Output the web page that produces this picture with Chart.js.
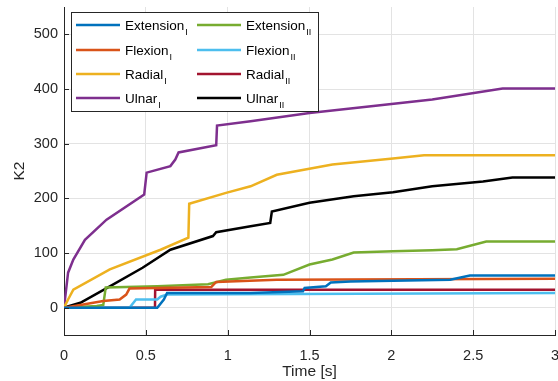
<!DOCTYPE html>
<html>
<head>
<meta charset="utf-8">
<script src="https://cdn.jsdelivr.net/npm/chart.js@4"></script>
<style>
  html, body { margin: 0; padding: 0; background: #fff; }
  #wrap { width: 558px; height: 381px; }
</style>
</head>
<body>
<div id="wrap"><canvas id="myChart" width="558" height="381"></canvas></div>
<script>
// --- data ---
const names = ['Extension', 'Flexion', 'Radial', 'Ulnar', 'Extension', 'Flexion', 'Radial', 'Ulnar'];
const subs = ['I', 'I', 'I', 'I', 'II', 'II', 'II', 'II'];
const colors = ['#0072BD', '#D95319', '#EDB120', '#7E2F8E', '#77AC30', '#4DBEEE', '#A2142F', '#000000'];

const extI_t = [0, 0.57, 0.61, 0.63, 1.14, 1.46, 1.47, 1.6, 1.63, 1.75, 2.36, 2.48, 3];
const extI_k = [0, 0, 15, 27, 27, 30, 36, 39, 46, 48, 51, 59, 59];

const flexI_t = [0, 0.1, 0.24, 0.34, 0.38, 0.4, 0.9, 0.93, 1.3, 3];
const flexI_k = [0, 5, 12, 15, 24, 35, 38, 47, 51, 53];

const radI_t = [0, 0.025, 0.057, 0.28, 0.59, 0.76, 0.765, 0.99, 1.14, 1.3, 1.64, 2.01, 2.2, 3];
const radI_k = [0, 15, 33, 70, 106, 128, 190, 210, 222, 243, 262, 273, 279, 279];

const ulnI_t = [0, 0.025, 0.057, 0.128, 0.26, 0.49, 0.505, 0.65, 0.68, 0.7, 0.93, 0.935, 1.14, 1.5, 1.89, 2.25, 2.68, 3];
const ulnI_k = [0, 64, 88, 124, 161, 207, 247, 259, 271, 284, 297, 333, 341, 356, 369, 381, 401, 401];

const extII_t = [0, 0.2, 0.24, 0.255, 0.57, 0.88, 0.99, 1.14, 1.34, 1.5, 1.64, 1.77, 2.01, 2.25, 2.4, 2.58, 3];
const extII_k = [0, 3, 5, 37, 39, 43, 51, 55, 60, 79, 88, 101, 103, 105, 107, 121, 121];

const flexII_t = [0, 0.4, 0.44, 0.57, 0.59, 0.63, 3];
const flexII_k = [0, 0, 15, 15, 20, 24, 27];

const radII_t = [0, 0.556, 0.557, 3];
const radII_k = [0, 0, 33, 33];

const ulnII_t = [0, 0.1, 0.28, 0.48, 0.65, 0.91, 0.93, 1.14, 1.26, 1.27, 1.5, 1.77, 2.01, 2.25, 2.56, 2.74, 3];
const ulnII_k = [0, 9, 39, 73, 106, 131, 138, 149, 155, 176, 192, 204, 211, 222, 231, 238, 238];

const times = [extI_t, flexI_t, radI_t, ulnI_t, extII_t, flexII_t, radII_t, ulnII_t];
const values = [extI_k, flexI_k, radI_k, ulnI_k, extII_k, flexII_k, radII_k, ulnII_k];

const xTicks = [0, 0.5, 1, 1.5, 2, 2.5, 3];
const yTicks = [0, 100, 200, 300, 400, 500];

function points(t, k) {
    const out = [];
    for (let i = 0; i < t.length; i++) out.push({x: t[i], y: k[i]});
    return out;
}

const datasets = names.map(function (n, i) {
    return {
        label: n + '_' + subs[i],
        data: points(times[i], values[i]),
        borderColor: colors[i],
        backgroundColor: colors[i],
        borderWidth: 2.5,
        pointRadius: 0,
        showLine: true,
        tension: 0,
        fill: false
    };
});

const FONT = '"Liberation Sans", Arial, sans-serif';
const AXIS = '#262626';

// inward tick marks like matlab
const innerTicks = {
    id: 'innerTicks',
    afterDatasetsDraw(chart) {
        const c = chart.ctx, a = chart.chartArea;
        const xs = chart.scales.x, ys = chart.scales.y;
        c.save();
        c.strokeStyle = AXIS;
        c.lineWidth = 1;
        c.beginPath();
        xTicks.forEach(function (v) {
            const px = Math.round(xs.getPixelForValue(v)) + 0.5;
            c.moveTo(px, a.bottom);
            c.lineTo(px, a.bottom - 5);
        });
        yTicks.forEach(function (v) {
            const py = Math.round(ys.getPixelForValue(v)) + 0.5;
            c.moveTo(a.left, py);
            c.lineTo(a.left + 5, py);
        });
        c.stroke();
        c.restore();
    }
};

// two-column legend with subscripts
const subLegend = {
    id: 'subLegend',
    afterDraw(chart) {
        const c = chart.ctx;
        const bx = 71, by = 12, bw = 247, bh = 99;
        c.save();
        c.fillStyle = '#fff';
        c.fillRect(bx, by, bw, bh);
        c.strokeStyle = '#262626';
        c.lineWidth = 1;
        c.strokeRect(bx + 0.5, by + 0.5, bw, bh);
        const rowY = [25, 50, 74, 98];
        const colX = [76, 197];
        chart.data.datasets.forEach(function (ds, i) {
            const col = Math.floor(i / 4), row = i % 4;
            const x = colX[col], y = rowY[row];
            c.strokeStyle = ds.borderColor;
            c.lineWidth = 2.5;
            c.beginPath();
            c.moveTo(x, y);
            c.lineTo(x + 44, y);
            c.stroke();
            c.fillStyle = '#000';
            c.textBaseline = 'alphabetic';
            c.font = '13.5px ' + FONT;
            const tx = x + 49;
            c.fillText(names[i], tx, y + 5);
            const w = c.measureText(names[i]).width;
            c.font = '9px ' + FONT;
            c.fillText(subs[i], tx + w + 1, y + 10);
        });
        c.restore();
    }
};

const ctx = document.getElementById('myChart');

new Chart(ctx, {
    type: 'scatter',
    data: { datasets: datasets },
    plugins: [innerTicks, subLegend],
    options: {
        responsive: false,
        animation: false,
        layout: { padding: { top: 7, right: 3, left: 0, bottom: 0 } },
        plugins: {
            legend: { display: false },
            tooltip: { enabled: false }
        },
        scales: {
            x: {
                type: 'linear',
                min: 0,
                max: 3,
                afterBuildTicks: function (s) { s.ticks = xTicks.map(function (v) { return {value: v}; }); },
                afterFit: function (s) { s.height = 46; s.paddingLeft = 0; s.paddingRight = 0; },
                grid: { color: '#e3e3e3', drawTicks: false },
                border: { color: AXIS, width: 1 },
                ticks: {
                    color: AXIS, padding: 12, maxRotation: 0,
                    font: { family: FONT, size: 14.5 },
                    callback: function (v) { return String(v); }
                },
                title: {
                    display: true, text: 'Time [s]', color: AXIS,
                    font: { family: FONT, size: 15.5 }, padding: { top: 0, bottom: 0 }
                }
            },
            y: {
                type: 'linear',
                min: -50,
                max: 550,
                afterBuildTicks: function (s) { s.ticks = yTicks.map(function (v) { return {value: v}; }); },
                afterFit: function (s) { s.width = 64; s.paddingTop = 0; s.paddingBottom = 0; },
                grid: { color: '#e3e3e3', drawTicks: false },
                border: { color: AXIS, width: 1 },
                ticks: {
                    color: AXIS, padding: 6,
                    font: { family: FONT, size: 14.5 }
                },
                title: {
                    display: true, text: 'K2', color: AXIS,
                    font: { family: FONT, size: 15.5 }, padding: { top: 10, bottom: 0 }
                }
            }
        }
    }
});
</script>
</body>
</html>
